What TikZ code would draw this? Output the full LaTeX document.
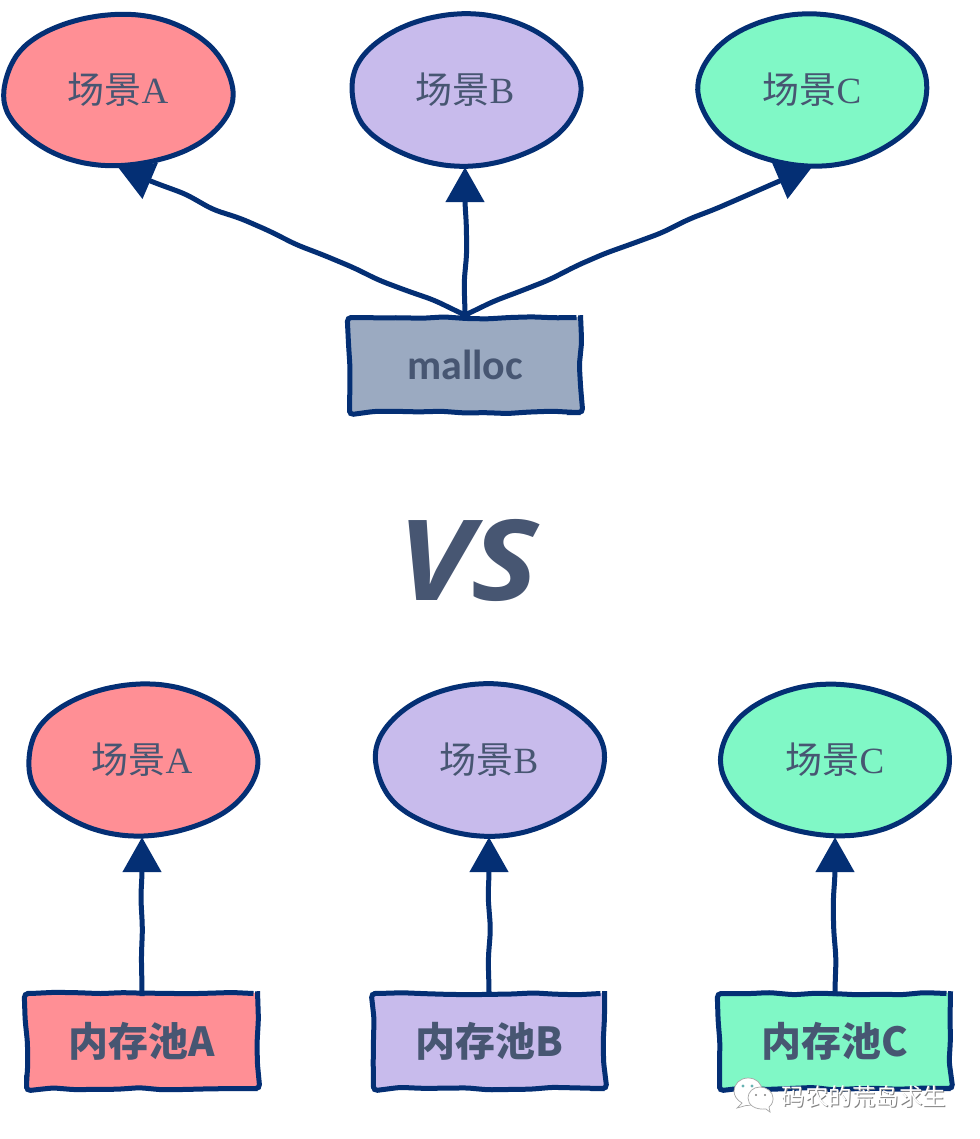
\documentclass[tikz,border=0pt]{standalone}
\usepackage{fontspec}
\usetikzlibrary{arrows.meta,decorations.pathmorphing,shapes.geometric,calc}
\newfontfamily\cjkf{Noto Sans CJK SC}
\newfontfamily\serf{Liberation Serif}
\newfontfamily\opf{Open Sans}
\newfontfamily\handf{Carlito}
\definecolor{lineblue}{HTML}{042F74}
\definecolor{txt}{HTML}{475672}
\definecolor{redf}{HTML}{FF8F95}
\definecolor{purf}{HTML}{C8BBEC}
\definecolor{grnf}{HTML}{80F8C6}
\definecolor{gryf}{HTML}{9BAAC1}
\newcommand{\scene}[1]{{\cjkf 场景}{\serf #1}}
% hand-drawn ellipse outline + named node that carries the text
\newcommand{\wobell}[6]{%
  \draw[draw=lineblue,line width=5pt,fill=#4,line join=round]
    plot[smooth cycle,samples=40,domain=0:351]
    ({#2+(114.5+1.2*sin(3*\x+#6)+0.7*sin(7*\x+2*#6))*cos(\x)},{#3+(75.5+0.9*sin(4*\x+#6))*sin(\x)});
  \node[scn] (#1) at (#2,#3) {#5};}
\tikzset{
  scn/.style={ellipse,inner sep=0pt,minimum width=229pt,minimum height=154pt,text=txt,font=\fontsize{37}{37}\selectfont},
  pool/.style={rectangle,draw=lineblue,line width=5pt,text=txt,inner sep=0pt,decorate,
    decoration={random steps,segment length=22pt,amplitude=1.4pt},
    rounded corners=4pt,minimum width=231pt,minimum height=95pt,font=\cjkf\bfseries\fontsize{40}{40}\selectfont},
  conn/.style={draw=lineblue,line width=5pt,rounded corners=8pt,-{Triangle[length=35pt,width=38pt]},
    decorate,decoration={random steps,segment length=30pt,amplitude=1.8pt,post length=38pt,pre length=3pt}},
  wm/.style={inner sep=0pt,font=\cjkf\fontsize{23.5}{23.5}\selectfont},
}
\begin{document}
\begin{tikzpicture}[x=1pt,y=-1pt]
\pgfmathsetseed{7}
\fill[white] (0,0) rectangle (979,1139);
\useasboundingbox (0,0) rectangle (979,1139);
% top row
\wobell{a1}{118}{90}{redf}{\scene{A}}{10}
\wobell{b1}{465}{90}{purf}{\scene{B}}{70}
\wobell{c1}{812}{90}{grnf}{\scene{C}}{130}
\node[pool,fill=gryf,font=\handf\bfseries\fontsize{42}{42}\selectfont] (m) at (465,365) {malloc};
\draw[conn] (m.north) -- (a1.south);
\draw[conn] (m.north) -- (b1.south);
\draw[conn] (m.north) -- (c1.south);
% VS
\node[inner sep=0pt,text=txt,xscale=1.13,font=\opf\bfseries\itshape\fontsize{112}{112}\selectfont] (vs) at (468,560) {VS};
% bottom row
\wobell{a2}{142}{760}{redf}{\scene{A}}{40}
\wobell{b2}{489}{760}{purf}{\scene{B}}{100}
\wobell{c2}{835}{760}{grnf}{\scene{C}}{160}
\node[pool,fill=redf] (pa) at (142,1041) {内存池A};
\node[pool,fill=purf] (pb) at (489,1041) {内存池B};
\node[pool,fill=grnf] (pc) at (835,1041) {内存池C};
\draw[conn] (pa.north) -- (a2.south);
\draw[conn] (pb.north) -- (b2.south);
\draw[conn] (pc.north) -- (c2.south);
% watermark
\draw[gray!70,line width=.7pt,fill=white] (742,1103) -- (737,1108) -- (746,1105.5) .. controls (755,1106) and (762,1099) .. (762,1091) .. controls (762,1083) and (756,1078) .. (748,1078) .. controls (740,1078) and (734,1084) .. (734,1091) .. controls (734,1096) and (737,1100) .. (742,1103) -- cycle;
\draw[gray!70,line width=.7pt,fill=white] (766,1109) -- (770,1112) -- (769,1107) .. controls (773,1104) and (773,1100) .. (773,1098) .. controls (773,1092) and (767,1087) .. (760,1087) .. controls (753,1087) and (748,1092) .. (748,1098) .. controls (748,1105) and (755,1110) .. (766,1109) -- cycle;
\fill[teal!60] (743,1086) circle (1.6pt) (752,1086) circle (1.6pt);
\fill[gray] (756,1095) circle (1.2pt) (765,1095) circle (1.2pt);
\node[wm,text=gray] (wms) at (865,1097.8) {码农的荒岛求生};
\node[wm,text=white] (wmt) at (864,1097) {码农的荒岛求生};
\end{tikzpicture}
\end{document}
